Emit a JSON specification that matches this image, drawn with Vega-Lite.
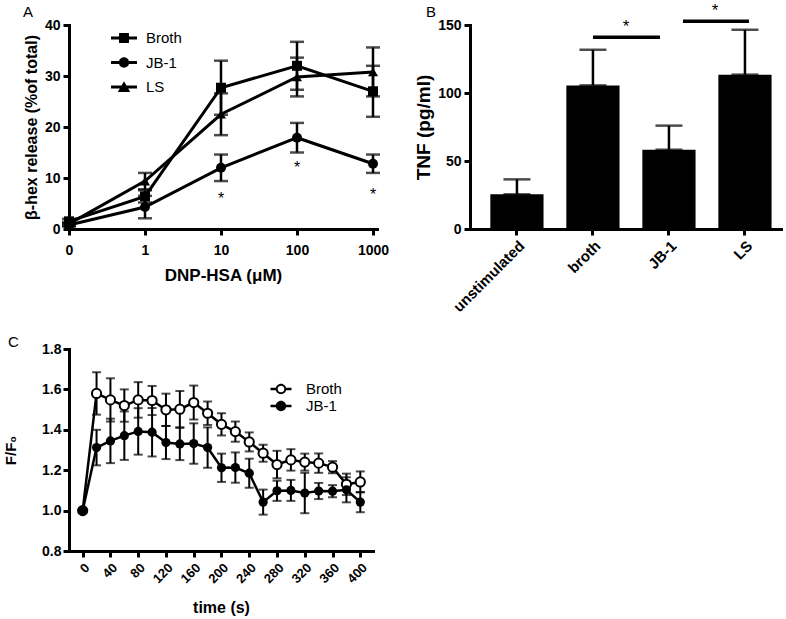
{
  "$schema": "https://vega.github.io/schema/vega-lite/v6.json",
  "padding": {"left": 3, "top": 2, "right": 0, "bottom": 0},
  "background": "white",
  "config": {
    "font": "Liberation Sans",
    "view": {"stroke": null},
    "axis": {"domainColor": "black", "domainWidth": 3, "domainCap": "square", "tickColor": "black", "tickWidth": 3, "tickSize": 6, "labelColor": "black", "labelFont": "Liberation Sans", "labelFontWeight": "bold", "labelFontSize": 14, "titleColor": "black", "titleFont": "Liberation Sans", "titleFontWeight": "bold", "titleFontSize": 16, "grid": false, "labelPadding": 3},
    "title": {"anchor": "start", "frame": "group", "fontSize": 15, "fontWeight": "normal", "color": "black", "font": "Liberation Sans", "baseline": "alphabetic"},
    "legend": {"labelFont": "Liberation Sans", "labelColor": "black", "labelFontSize": 15, "labelFontWeight": "normal", "padding": 0, "symbolOffset": 0, "symbolStrokeWidth": 0}
  },
  "bounds": "flush",
  "spacing": 324,
  "vconcat": [
    {
      "bounds": "flush",
      "spacing": 93,
      "hconcat": [
        {
          "width": 308,
          "height": 204,
          "title": {"text": "A", "dx": -46, "offset": -2},
          "data": {"values": [
            {"dose": "0", "series": "Broth", "mean": 1.5, "lo": 1.0, "hi": 2.0},
            {"dose": "1", "series": "Broth", "mean": 6.4, "lo": 5.2, "hi": 7.6},
            {"dose": "10", "series": "Broth", "mean": 27.7, "lo": 22.4, "hi": 33.0},
            {"dose": "100", "series": "Broth", "mean": 32.0, "lo": 27.3, "hi": 36.7},
            {"dose": "1000", "series": "Broth", "mean": 27.0, "lo": 22.0, "hi": 32.0},
            {"dose": "0", "series": "JB-1", "mean": 0.8, "lo": 0.5, "hi": 1.1},
            {"dose": "1", "series": "JB-1", "mean": 4.3, "lo": 2.1, "hi": 6.5},
            {"dose": "10", "series": "JB-1", "mean": 12.0, "lo": 9.4, "hi": 14.6},
            {"dose": "100", "series": "JB-1", "mean": 17.9, "lo": 15.0, "hi": 20.8},
            {"dose": "1000", "series": "JB-1", "mean": 12.8, "lo": 11.0, "hi": 14.6},
            {"dose": "0", "series": "LS", "mean": 1.0, "lo": 0.6, "hi": 1.4},
            {"dose": "1", "series": "LS", "mean": 9.4, "lo": 7.8, "hi": 11.0},
            {"dose": "10", "series": "LS", "mean": 22.5, "lo": 18.4, "hi": 26.6},
            {"dose": "100", "series": "LS", "mean": 29.8, "lo": 26.0, "hi": 33.6},
            {"dose": "1000", "series": "LS", "mean": 30.8, "lo": 26.0, "hi": 35.6}
          ]},
          "encoding": {
            "x": {"field": "dose", "type": "ordinal", "sort": ["0", "1", "10", "100", "1000"], "scale": {"type": "point", "padding": 0.0263, "align": 0}, "axis": {"labelAngle": 0, "title": "DNP-HSA (μM)", "titleFontSize": 17, "titlePadding": 10, "labelPadding": 8}}
          },
          "resolve": {"scale": {"shape": "independent"}},
          "layer": [
            {
              "mark": {"type": "errorbar", "ticks": {"size": 14}, "thickness": 2.5, "color": "black"},
              "encoding": {
                "y": {"field": "lo", "type": "quantitative", "title": "β-hex release (%of total)", "scale": {"domain": [0, 40], "nice": false}, "axis": {"values": [0, 10, 20, 30, 40], "titleFontSize": 16, "titlePadding": 5}},
                "y2": {"field": "hi"},
                "detail": {"field": "series"}
              }
            },
            {
              "mark": {"type": "line", "color": "black", "strokeWidth": 3},
              "encoding": {
                "y": {"field": "mean", "type": "quantitative", "title": "β-hex release (%of total)"},
                "detail": {"field": "series"}
              }
            },
            {
              "mark": {"type": "point", "filled": true, "color": "black", "opacity": 1, "size": 100},
              "encoding": {
                "y": {"field": "mean", "type": "quantitative", "title": "β-hex release (%of total)"},
                "shape": {"field": "series", "type": "nominal", "scale": {"domain": ["Broth", "JB-1", "LS"], "range": ["square", "circle", "triangle-up"]}, "legend": null}
              }
            },
            {
              "mark": {"type": "point", "filled": true, "color": "black", "opacity": 1, "size": 0},
              "encoding": {
                "y": {"field": "mean", "type": "quantitative", "title": "β-hex release (%of total)"},
                "shape": {"field": "series", "type": "nominal",
                  "scale": {"domain": ["Broth", "JB-1", "LS"], "range": [
                    "M-1.3,-0.15H1.3V0.15H-1.3Z M-0.5,-0.5H0.5V0.5H-0.5Z",
                    "M-1.3,-0.15H1.3V0.15H-1.3Z M-0.52,0A0.52,0.52 0 1,1 0.52,0A0.52,0.52 0 1,1 -0.52,0Z",
                    "M-1.3,-0.15H1.3V0.15H-1.3Z M0,-0.58L0.62,0.5H-0.62Z"
                  ]},
                  "legend": {"title": null, "orient": "none", "legendX": 45, "legendY": 3, "symbolSize": 400, "labelOffset": 12, "rowPadding": 6.5, "symbolFillColor": "black", "symbolStrokeWidth": 0}
                }
              }
            },
            {
              "data": {"values": [
                {"dose": "10", "y": 4.9},
                {"dose": "100", "y": 10.9},
                {"dose": "1000", "y": 5.7}
              ]},
              "mark": {"type": "text", "text": "*", "fontSize": 16, "color": "black", "baseline": "alphabetic"},
              "encoding": {
                "y": {"field": "y", "type": "quantitative", "title": "β-hex release (%of total)"}
              }
            }
          ]
        },
        {
          "width": 313,
          "height": 204,
          "title": {"text": "B", "dx": -44, "offset": -18},
          "layer": [
            {
              "data": {"values": [
                {"cat": "unstimulated", "value": 25.5, "top": 36.5},
                {"cat": "broth", "value": 105.6, "top": 131.8},
                {"cat": "JB-1", "value": 58.3, "top": 76.0},
                {"cat": "LS", "value": 113.5, "top": 146.5}
              ]},
              "layer": [
                {
                  "mark": {"type": "errorbar", "ticks": {"size": 27}, "thickness": 2.5, "color": "black"},
                  "encoding": {
                    "x": {"field": "cat", "type": "nominal", "scale": {"domain": ["unstimulated", "broth", "JB-1", "LS"], "paddingInner": 0.3, "paddingOuter": 0.209, "align": 0.64}, "axis": {"title": null, "labelAngle": -45, "labelFontSize": 15}},
                    "y": {"field": "value", "type": "quantitative", "title": "TNF (pg/ml)", "scale": {"domain": [0, 150], "nice": false}, "axis": {"values": [0, 25, 50, 75, 100, 125, 150], "titleFontSize": 19, "titlePadding": 4}},
                    "y2": {"field": "top"}
                  }
                },
                {
                  "mark": {"type": "bar", "color": "black"},
                  "encoding": {
                    "x": {"field": "cat", "type": "nominal", "scale": {"domain": ["unstimulated", "broth", "JB-1", "LS"]}},
                    "y": {"field": "value", "type": "quantitative", "title": "TNF (pg/ml)"}
                  }
                }
              ]
            },
            {
              "data": {"values": [{"cat": "broth", "cat2": "JB-1", "y": 141}]},
              "mark": {"type": "rule", "color": "black", "strokeWidth": 3.5, "x2Offset": -9},
              "encoding": {
                "x": {"field": "cat", "type": "nominal", "scale": {"domain": ["unstimulated", "broth", "JB-1", "LS"]}},
                "x2": {"field": "cat2"},
                "y": {"field": "y", "type": "quantitative", "title": "TNF (pg/ml)"}
              }
            },
            {
              "data": {"values": [{"cat": "JB-1", "cat2": "LS", "y": 152.7}]},
              "mark": {"type": "rule", "color": "black", "strokeWidth": 3.5, "xOffset": 14, "x2Offset": 4},
              "encoding": {
                "x": {"field": "cat", "type": "nominal", "scale": {"domain": ["unstimulated", "broth", "JB-1", "LS"]}},
                "x2": {"field": "cat2"},
                "y": {"field": "y", "type": "quantitative", "title": "TNF (pg/ml)"}
              }
            },
            {
              "data": {"values": [{"cat": "broth", "y": 145}]},
              "mark": {"type": "text", "text": "*", "fontSize": 17, "color": "black", "baseline": "alphabetic", "xOffset": 33},
              "encoding": {
                "x": {"field": "cat", "type": "nominal", "scale": {"domain": ["unstimulated", "broth", "JB-1", "LS"]}},
                "y": {"field": "y", "type": "quantitative", "title": "TNF (pg/ml)"}
              }
            },
            {
              "data": {"values": [{"cat": "JB-1", "y": 156.6}]},
              "mark": {"type": "text", "text": "*", "fontSize": 17, "color": "black", "baseline": "alphabetic", "xOffset": 46},
              "encoding": {
                "x": {"field": "cat", "type": "nominal", "scale": {"domain": ["unstimulated", "broth", "JB-1", "LS"]}},
                "y": {"field": "y", "type": "quantitative", "title": "TNF (pg/ml)"}
              }
            }
          ]
        }
      ]
    },
    {
      "width": 304,
      "height": 202,
      "title": {"text": "C", "dx": -61, "offset": -8},
      "data": {"values": [
        {"t": 0, "series": "Broth", "mean": 1.0, "lo": 1.0, "hi": 1.0},
        {"t": 20, "series": "Broth", "mean": 1.58, "lo": 1.475, "hi": 1.685},
        {"t": 40, "series": "Broth", "mean": 1.548, "lo": 1.441, "hi": 1.655},
        {"t": 60, "series": "Broth", "mean": 1.52, "lo": 1.44, "hi": 1.6},
        {"t": 80, "series": "Broth", "mean": 1.548, "lo": 1.46, "hi": 1.636},
        {"t": 100, "series": "Broth", "mean": 1.545, "lo": 1.473, "hi": 1.617},
        {"t": 120, "series": "Broth", "mean": 1.499, "lo": 1.419, "hi": 1.579},
        {"t": 140, "series": "Broth", "mean": 1.502, "lo": 1.412, "hi": 1.592},
        {"t": 160, "series": "Broth", "mean": 1.535, "lo": 1.451, "hi": 1.619},
        {"t": 180, "series": "Broth", "mean": 1.482, "lo": 1.424, "hi": 1.54},
        {"t": 200, "series": "Broth", "mean": 1.427, "lo": 1.372, "hi": 1.482},
        {"t": 220, "series": "Broth", "mean": 1.391, "lo": 1.341, "hi": 1.441},
        {"t": 240, "series": "Broth", "mean": 1.34, "lo": 1.293, "hi": 1.387},
        {"t": 260, "series": "Broth", "mean": 1.284, "lo": 1.242, "hi": 1.326},
        {"t": 280, "series": "Broth", "mean": 1.228, "lo": 1.16, "hi": 1.296},
        {"t": 300, "series": "Broth", "mean": 1.251, "lo": 1.198, "hi": 1.304},
        {"t": 320, "series": "Broth", "mean": 1.24, "lo": 1.198, "hi": 1.282},
        {"t": 340, "series": "Broth", "mean": 1.235, "lo": 1.187, "hi": 1.283},
        {"t": 360, "series": "Broth", "mean": 1.215, "lo": 1.185, "hi": 1.245},
        {"t": 380, "series": "Broth", "mean": 1.13, "lo": 1.077, "hi": 1.183},
        {"t": 400, "series": "Broth", "mean": 1.142, "lo": 1.09, "hi": 1.194},
        {"t": 0, "series": "JB-1", "mean": 1.0, "lo": 1.0, "hi": 1.0},
        {"t": 20, "series": "JB-1", "mean": 1.312, "lo": 1.224, "hi": 1.4},
        {"t": 40, "series": "JB-1", "mean": 1.345, "lo": 1.235, "hi": 1.455},
        {"t": 60, "series": "JB-1", "mean": 1.371, "lo": 1.251, "hi": 1.491},
        {"t": 80, "series": "JB-1", "mean": 1.392, "lo": 1.277, "hi": 1.507},
        {"t": 100, "series": "JB-1", "mean": 1.388, "lo": 1.268, "hi": 1.508},
        {"t": 120, "series": "JB-1", "mean": 1.337, "lo": 1.255, "hi": 1.419},
        {"t": 140, "series": "JB-1", "mean": 1.33, "lo": 1.25, "hi": 1.41},
        {"t": 160, "series": "JB-1", "mean": 1.332, "lo": 1.232, "hi": 1.432},
        {"t": 180, "series": "JB-1", "mean": 1.312, "lo": 1.212, "hi": 1.412},
        {"t": 200, "series": "JB-1", "mean": 1.212, "lo": 1.142, "hi": 1.282},
        {"t": 220, "series": "JB-1", "mean": 1.213, "lo": 1.138, "hi": 1.288},
        {"t": 240, "series": "JB-1", "mean": 1.185, "lo": 1.113, "hi": 1.257},
        {"t": 260, "series": "JB-1", "mean": 1.042, "lo": 0.98, "hi": 1.104},
        {"t": 280, "series": "JB-1", "mean": 1.098, "lo": 1.048, "hi": 1.148},
        {"t": 300, "series": "JB-1", "mean": 1.1, "lo": 1.048, "hi": 1.152},
        {"t": 320, "series": "JB-1", "mean": 1.087, "lo": 0.987, "hi": 1.187},
        {"t": 340, "series": "JB-1", "mean": 1.097, "lo": 1.057, "hi": 1.137},
        {"t": 360, "series": "JB-1", "mean": 1.096, "lo": 1.066, "hi": 1.126},
        {"t": 380, "series": "JB-1", "mean": 1.103, "lo": 1.041, "hi": 1.165},
        {"t": 400, "series": "JB-1", "mean": 1.042, "lo": 0.992, "hi": 1.092}
      ]},
      "encoding": {
        "x": {"field": "t", "type": "quantitative", "scale": {"domain": [-19.7, 418.3], "nice": false, "zero": false}, "axis": {"values": [0, 40, 80, 120, 160, 200, 240, 280, 320, 360, 400], "labelAngle": -45, "labelFontSize": 13, "labelPadding": 4, "title": "time (s)", "titleFontSize": 16, "titlePadding": 14}}
      },
      "layer": [
        {
          "mark": {"type": "errorbar", "ticks": {"size": 9}, "thickness": 2, "color": "black"},
          "encoding": {
            "y": {"field": "lo", "type": "quantitative", "title": "F/F₀", "scale": {"domain": [0.8, 1.8], "nice": false, "zero": false}, "axis": {"values": [0.8, 1.0, 1.2, 1.4, 1.6, 1.8], "format": ".1f", "titleFontSize": 15, "titlePadding": 23, "labelPadding": 2}},
            "y2": {"field": "hi"},
            "detail": {"field": "series"}
          }
        },
        {
          "mark": {"type": "line", "color": "black", "strokeWidth": 2.5},
          "encoding": {
            "y": {"field": "mean", "type": "quantitative", "title": "F/F₀"},
            "detail": {"field": "series"}
          }
        },
        {
          "transform": [{"filter": "datum.series === 'Broth'"}],
          "mark": {"type": "point", "shape": "circle", "size": 85, "filled": true, "fill": "white", "stroke": "black", "strokeWidth": 2, "opacity": 1},
          "encoding": {
            "y": {"field": "mean", "type": "quantitative", "title": "F/F₀"}
          }
        },
        {
          "transform": [{"filter": "datum.series === 'JB-1'"}],
          "mark": {"type": "point", "shape": "circle", "size": 85, "filled": true, "color": "black", "opacity": 1},
          "encoding": {
            "y": {"field": "mean", "type": "quantitative", "title": "F/F₀"}
          }
        },
        {
          "mark": {"type": "point", "filled": true, "color": "black", "opacity": 1, "size": 0},
          "encoding": {
            "y": {"field": "mean", "type": "quantitative", "title": "F/F₀"},
            "shape": {"field": "series", "type": "nominal",
              "scale": {"domain": ["Broth", "JB-1"], "range": [
                "M-1.31,-0.15H-0.55V0.15H-1.31Z M0.55,-0.15H1.31V0.15H0.55Z M-0.65,0A0.65,0.65 0 1,1 0.65,0A0.65,0.65 0 1,1 -0.65,0Z M-0.42,0A0.42,0.42 0 1,0 0.42,0A0.42,0.42 0 1,0 -0.42,0Z",
                "M-1.31,-0.15H1.31V0.15H-1.31Z M-0.65,0A0.65,0.65 0 1,1 0.65,0A0.65,0.65 0 1,1 -0.65,0Z"
              ]},
              "legend": {"title": null, "orient": "none", "legendX": 204, "legendY": 356, "symbolSize": 256, "labelOffset": 17, "rowPadding": 1, "symbolFillColor": "black", "symbolStrokeWidth": 0}
            }
          }
        }
      ]
    }
  ]
}
